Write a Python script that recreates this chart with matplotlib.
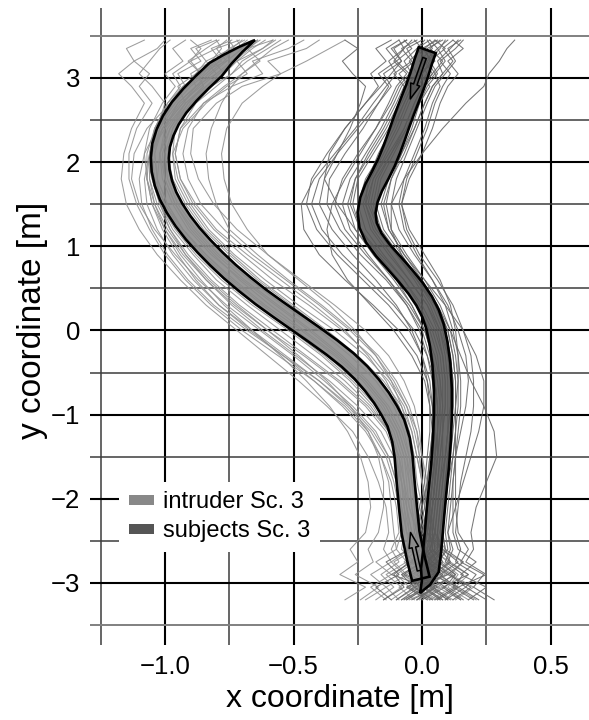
import numpy as np
import matplotlib
matplotlib.use("Agg")
import matplotlib.pyplot as plt
from matplotlib.patches import Polygon, Patch, FancyArrowPatch

plt.rcParams["font.family"] = ["Liberation Sans", "DejaVu Sans"]

# ---------------------------------------------------------------- data
X_TICKS = [-1.0, -0.5, 0.0, 0.5]
X_TICK_LABELS = ["\u22121.0", "\u22120.5", "0.0", "0.5"]
Y_TICKS = [-3, -2, -1, 0, 1, 2, 3]
Y_TICK_LABELS = ["\u22123", "\u22122", "\u22121", "0", "1", "2", "3"]
GRID_MAJOR_X = [-1.0, -0.5, 0.0, 0.5]
GRID_MINOR_X = [-1.25, -0.75, -0.25, 0.25]
GRID_MAJOR_Y = [-3, -2, -1, 0, 1, 2, 3]
GRID_MINOR_Y = [-2.5, -1.5, -0.5, 0.5, 1.5, 2.5]
GRID_OUTER_Y = [-3.5, 3.5]

# sampled y positions shared by all recorded walks
Y_SAMPLES = [-3.2, -3.05, -2.9, -2.75, -2.6, -2.4, -2.1, -1.8, -1.5, -1.2,
             -0.9, -0.6, -0.3, 0.0, 0.3, 0.6, 0.9, 1.2, 1.5, 1.8,
             2.1, 2.4, 2.7, 2.9, 3.05, 3.2, 3.35, 3.45]

# lateral position of each intruder walk at Y_SAMPLES
INTRUDER_RUNS = [
    [0.05, -0.03, 0.04, -0.05, 0.02, -0.06, -0.08, -0.10, -0.13, -0.18, -0.27, -0.38, -0.50, -0.63, -0.76, -0.87, -0.96, -1.04, -1.10, -1.13, -1.12, -1.07, -0.98, -0.92, -0.95, -0.86, -0.90, -0.82],
    [-0.08, 0.03, -0.04, 0.06, -0.02, 0.01, -0.02, -0.03, -0.04, -0.06, -0.09, -0.14, -0.21, -0.30, -0.42, -0.55, -0.68, -0.80, -0.88, -0.94, -0.96, -0.94, -0.88, -0.80, -0.74, -0.70, -0.62, -0.58],
    [0.10, 0.02, 0.08, 0.00, -0.03, -0.02, -0.05, -0.06, -0.07, -0.10, -0.16, -0.25, -0.36, -0.49, -0.62, -0.74, -0.84, -0.93, -0.99, -1.03, -1.04, -1.01, -0.93, -0.88, -0.80, -0.84, -0.74, -0.70],
    [-0.12, -0.05, -0.10, -0.03, -0.08, -0.07, -0.09, -0.11, -0.14, -0.20, -0.29, -0.40, -0.53, -0.66, -0.79, -0.89, -0.97, -1.03, -1.07, -1.08, -1.06, -1.00, -0.92, -0.85, -0.88, -0.78, -0.82, -0.74],
    [0.03, 0.12, 0.05, 0.10, 0.04, 0.03, 0.01, 0.00, -0.01, -0.02, -0.05, -0.10, -0.17, -0.27, -0.39, -0.52, -0.64, -0.75, -0.80, -0.83, -0.84, -0.82, -0.78, -0.74, -0.70, -0.64, -0.58, -0.52],
    [-0.05, 0.06, -0.02, 0.02, -0.05, -0.04, -0.06, -0.07, -0.08, -0.11, -0.17, -0.26, -0.37, -0.50, -0.64, -0.76, -0.86, -0.94, -1.00, -1.04, -1.05, -1.03, -0.96, -0.90, -0.84, -0.79, -0.72, -0.68],
    [-0.22, -0.14, -0.20, -0.12, -0.15, -0.13, -0.14, -0.17, -0.21, -0.27, -0.37, -0.48, -0.60, -0.72, -0.84, -0.94, -1.03, -1.10, -1.15, -1.17, -1.16, -1.13, -1.08, -1.13, -1.18, -1.12, -1.15, -1.08],
    [0.15, 0.06, 0.12, 0.04, 0.02, -0.01, -0.03, -0.04, -0.05, -0.07, -0.11, -0.18, -0.28, -0.40, -0.54, -0.67, -0.79, -0.88, -0.95, -0.99, -1.00, -0.97, -0.90, -0.83, -0.77, -0.72, -0.66, -0.61],
    [-0.15, -0.08, -0.14, -0.06, -0.10, -0.08, -0.08, -0.09, -0.10, -0.13, -0.19, -0.28, -0.39, -0.52, -0.66, -0.78, -0.88, -0.96, -1.02, -1.05, -1.05, -1.02, -0.95, -0.88, -0.90, -0.82, -0.78, -0.80],
    [0.08, 0.00, 0.06, 0.02, 0.05, 0.04, 0.02, 0.01, 0.00, -0.01, -0.03, -0.07, -0.13, -0.22, -0.34, -0.47, -0.60, -0.72, -0.81, -0.87, -0.90, -0.89, -0.80, -0.70, -0.55, -0.60, -0.45, -0.40],
    [-0.02, 0.08, 0.01, 0.07, 0.00, -0.03, -0.04, -0.05, -0.06, -0.09, -0.14, -0.22, -0.33, -0.46, -0.59, -0.71, -0.81, -0.90, -0.96, -1.00, -1.01, -0.98, -0.91, -0.85, -0.87, -0.76, -0.70, -0.72],
    [0.12, 0.04, 0.00, 0.06, 0.01, -0.02, -0.05, -0.07, -0.09, -0.13, -0.21, -0.32, -0.45, -0.58, -0.71, -0.82, -0.91, -0.98, -1.03, -1.06, -1.06, -1.03, -0.97, -0.92, -0.86, -0.90, -0.80, -0.76],
    [-0.06, 0.02, -0.08, 0.00, -0.04, -0.02, -0.03, -0.03, -0.04, -0.05, -0.08, -0.12, -0.18, -0.26, -0.36, -0.48, -0.60, -0.68, -0.74, -0.77, -0.78, -0.76, -0.70, -0.62, -0.55, -0.45, -0.36, -0.30],
    [0.02, -0.06, 0.03, -0.04, 0.00, -0.05, -0.07, -0.08, -0.10, -0.14, -0.22, -0.33, -0.46, -0.60, -0.73, -0.84, -0.93, -1.00, -1.05, -1.07, -1.06, -1.01, -0.93, -0.87, -0.82, -0.76, -0.80, -0.71],
    [0.18, 0.10, 0.14, 0.08, 0.06, 0.02, 0.00, -0.02, -0.03, -0.05, -0.09, -0.16, -0.26, -0.38, -0.51, -0.64, -0.75, -0.85, -0.92, -0.97, -0.99, -0.97, -0.91, -0.84, -0.79, -0.73, -0.67, -0.64],
    [-0.10, -0.02, -0.07, -0.12, -0.05, -0.06, -0.08, -0.10, -0.13, -0.19, -0.28, -0.40, -0.54, -0.68, -0.81, -0.91, -0.99, -1.05, -1.09, -1.10, -1.08, -1.03, -1.00, -1.05, -1.10, -1.06, -1.02, -0.98],
    [0.06, -0.02, 0.09, 0.03, 0.07, 0.02, -0.01, -0.03, -0.05, -0.08, -0.13, -0.21, -0.31, -0.43, -0.56, -0.69, -0.80, -0.89, -0.96, -1.00, -1.02, -1.00, -0.95, -0.88, -0.83, -0.77, -0.73, -0.66],
    [-0.30, -0.22, -0.32, -0.25, -0.28, -0.22, -0.20, -0.21, -0.24, -0.29, -0.36, -0.45, -0.55, -0.66, -0.77, -0.86, -0.94, -1.00, -1.04, -1.06, -1.05, -1.01, -0.94, -0.86, -0.80, -0.74, -0.68, -0.63],
    [0.09, 0.14, 0.06, 0.11, 0.03, 0.05, 0.03, 0.02, 0.00, -0.02, -0.06, -0.12, -0.20, -0.31, -0.44, -0.58, -0.70, -0.81, -0.89, -0.94, -0.96, -0.94, -0.85, -0.74, -0.62, -0.66, -0.52, -0.46],
    [-0.09, -0.14, -0.06, -0.11, -0.03, -0.06, -0.07, -0.08, -0.09, -0.12, -0.18, -0.27, -0.38, -0.51, -0.64, -0.75, -0.85, -0.93, -0.99, -1.03, -1.04, -1.02, -0.97, -0.91, -0.85, -0.81, -0.75, -0.69],
    [0.00, 0.07, -0.03, 0.04, -0.01, -0.02, -0.04, -0.05, -0.07, -0.10, -0.15, -0.23, -0.34, -0.47, -0.61, -0.73, -0.84, -0.93, -1.00, -1.04, -1.06, -1.04, -0.99, -0.94, -0.97, -0.90, -0.86, -0.90],
    [-0.18, -0.11, -0.16, -0.09, -0.12, -0.09, -0.10, -0.12, -0.16, -0.22, -0.31, -0.42, -0.54, -0.67, -0.79, -0.88, -0.95, -1.01, -1.05, -1.07, -1.07, -1.04, -0.98, -0.93, -0.86, -0.91, -0.84, -0.79],
    [0.21, 0.13, 0.18, 0.11, 0.09, 0.05, 0.02, 0.00, -0.02, -0.04, -0.07, -0.13, -0.22, -0.34, -0.48, -0.61, -0.73, -0.83, -0.90, -0.95, -0.97, -0.96, -0.90, -0.82, -0.74, -0.68, -0.60, -0.55],
    [-0.03, -0.09, 0.00, -0.07, -0.02, -0.04, -0.06, -0.08, -0.11, -0.16, -0.25, -0.36, -0.49, -0.62, -0.74, -0.84, -0.92, -0.98, -1.02, -1.03, -1.02, -0.98, -0.92, -0.95, -0.88, -0.84, -0.88, -0.80],
    [0.07, 0.01, 0.10, 0.05, 0.08, 0.03, 0.01, 0.00, -0.02, -0.04, -0.08, -0.15, -0.25, -0.37, -0.50, -0.63, -0.74, -0.84, -0.91, -0.96, -0.97, -0.93, -0.84, -0.76, -0.68, -0.72, -0.62, -0.57],
    [-0.14, -0.20, -0.12, -0.18, -0.10, -0.11, -0.12, -0.13, -0.16, -0.21, -0.30, -0.42, -0.56, -0.70, -0.82, -0.92, -1.00, -1.06, -1.11, -1.14, -1.14, -1.11, -1.05, -1.10, -1.06, -1.12, -1.03, -1.00],
    [0.13, 0.20, 0.11, 0.16, 0.07, 0.04, 0.02, 0.00, -0.01, -0.03, -0.06, -0.11, -0.18, -0.28, -0.40, -0.53, -0.66, -0.77, -0.86, -0.91, -0.93, -0.91, -0.85, -0.77, -0.70, -0.63, -0.68, -0.58],
    [-0.01, 0.05, -0.06, 0.02, -0.06, -0.05, -0.06, -0.07, -0.09, -0.13, -0.20, -0.30, -0.42, -0.55, -0.68, -0.80, -0.89, -0.97, -1.02, -1.05, -1.06, -1.04, -0.99, -0.93, -0.86, -0.80, -0.73, -0.75],
    [0.04, -0.04, 0.07, -0.01, 0.03, 0.00, -0.02, -0.04, -0.06, -0.09, -0.14, -0.22, -0.32, -0.44, -0.57, -0.70, -0.82, -0.91, -0.97, -1.01, -1.02, -0.99, -0.92, -0.84, -0.77, -0.81, -0.71, -0.64],
    [-0.24, -0.17, -0.26, -0.19, -0.21, -0.17, -0.15, -0.15, -0.17, -0.21, -0.28, -0.37, -0.48, -0.60, -0.72, -0.83, -0.92, -0.99, -1.04, -1.07, -1.08, -1.06, -1.01, -0.96, -1.00, -0.93, -0.97, -0.92],
]

# lateral position of each subject walk at Y_SAMPLES
SUBJECT_RUNS = [
    [-0.02, 0.05, -0.01, 0.06, 0.03, 0.05, 0.06, 0.07, 0.08, 0.08, 0.09, 0.09, 0.08, 0.06, 0.02, -0.05, -0.13, -0.20, -0.23, -0.20, -0.15, -0.10, -0.06, -0.03, 0.00, 0.03, 0.01, 0.05],
    [0.08, 0.01, 0.06, 0.00, 0.04, 0.03, 0.04, 0.05, 0.06, 0.06, 0.06, 0.05, 0.02, -0.03, -0.11, -0.21, -0.31, -0.39, -0.43, -0.40, -0.33, -0.25, -0.17, -0.12, -0.15, -0.08, -0.11, -0.06],
    [0.15, 0.08, 0.18, 0.10, 0.12, 0.10, 0.11, 0.12, 0.13, 0.14, 0.15, 0.15, 0.14, 0.12, 0.09, 0.04, -0.02, -0.07, -0.09, -0.07, -0.03, 0.01, 0.04, 0.07, 0.05, 0.09, 0.06, 0.10],
    [-0.10, -0.03, -0.08, 0.00, -0.02, 0.00, 0.02, 0.03, 0.04, 0.05, 0.05, 0.04, 0.02, -0.01, -0.06, -0.13, -0.21, -0.28, -0.31, -0.28, -0.22, -0.16, -0.11, -0.08, -0.04, -0.07, -0.02, 0.01],
    [0.20, 0.12, 0.16, 0.09, 0.11, 0.10, 0.13, 0.16, 0.19, 0.22, 0.24, 0.24, 0.21, 0.16, 0.09, 0.01, -0.07, -0.13, -0.15, -0.12, -0.07, -0.03, 0.01, 0.04, 0.08, 0.06, 0.11, 0.14],
    [0.02, -0.06, 0.03, -0.02, 0.01, 0.02, 0.03, 0.04, 0.05, 0.05, 0.04, 0.02, -0.02, -0.09, -0.19, -0.30, -0.40, -0.46, -0.47, -0.42, -0.34, -0.26, -0.19, -0.14, -0.10, -0.13, -0.07, -0.04],
    [0.05, 0.13, 0.07, 0.14, 0.08, 0.07, 0.08, 0.09, 0.10, 0.11, 0.12, 0.12, 0.11, 0.09, 0.05, -0.01, -0.08, -0.15, -0.18, -0.16, -0.11, -0.06, -0.02, 0.01, 0.05, 0.02, 0.07, 0.09],
    [0.22, 0.14, 0.25, 0.17, 0.20, 0.19, 0.21, 0.25, 0.29, 0.28, 0.24, 0.19, 0.15, 0.11, 0.06, -0.01, -0.09, -0.16, -0.19, -0.17, -0.12, -0.07, -0.03, 0.00, 0.04, 0.01, 0.06, 0.03],
    [-0.06, 0.02, -0.12, -0.04, -0.01, 0.01, 0.03, 0.04, 0.05, 0.06, 0.07, 0.07, 0.06, 0.03, -0.02, -0.09, -0.17, -0.24, -0.27, -0.25, -0.19, -0.13, -0.08, -0.05, -0.09, -0.03, -0.06, 0.00],
    [0.10, 0.03, 0.08, 0.02, 0.06, 0.06, 0.07, 0.08, 0.09, 0.10, 0.11, 0.11, 0.10, 0.08, 0.04, -0.02, -0.08, -0.12, -0.12, -0.07, 0.00, 0.08, 0.17, 0.24, 0.26, 0.30, 0.33, 0.36],
    [0.00, 0.09, 0.02, 0.08, 0.04, 0.04, 0.05, 0.06, 0.07, 0.08, 0.08, 0.07, 0.05, 0.01, -0.05, -0.13, -0.22, -0.30, -0.34, -0.31, -0.25, -0.18, -0.12, -0.09, -0.05, -0.10, -0.04, -0.07],
    [0.12, 0.19, 0.10, 0.16, 0.09, 0.08, 0.09, 0.10, 0.11, 0.12, 0.13, 0.13, 0.12, 0.10, 0.06, 0.00, -0.07, -0.13, -0.16, -0.13, -0.08, -0.03, 0.01, 0.04, 0.08, 0.12, 0.08, 0.12],
    [-0.15, -0.07, -0.11, -0.05, -0.06, -0.03, -0.01, 0.01, 0.02, 0.03, 0.03, 0.02, 0.00, -0.04, -0.10, -0.18, -0.27, -0.35, -0.40, -0.38, -0.33, -0.28, -0.24, -0.22, -0.27, -0.31, -0.25, -0.30],
    [0.04, -0.03, 0.10, 0.02, 0.07, 0.05, 0.06, 0.07, 0.09, 0.10, 0.10, 0.10, 0.09, 0.07, 0.03, -0.03, -0.10, -0.17, -0.21, -0.19, -0.14, -0.09, -0.05, -0.02, 0.02, -0.01, 0.04, 0.02],
    [0.07, 0.00, 0.05, -0.02, 0.03, 0.03, 0.04, 0.05, 0.06, 0.07, 0.07, 0.06, 0.04, 0.01, -0.04, -0.10, -0.18, -0.26, -0.33, -0.38, -0.36, -0.30, -0.22, -0.16, -0.12, -0.08, -0.12, -0.06],
    [0.28, 0.20, 0.24, 0.15, 0.18, 0.14, 0.13, 0.13, 0.13, 0.13, 0.13, 0.14, 0.14, 0.13, 0.11, 0.07, 0.01, -0.05, -0.08, -0.06, -0.02, 0.02, 0.05, 0.08, 0.11, 0.07, 0.13, 0.16],
    [-0.04, 0.06, -0.02, 0.04, 0.00, 0.02, 0.04, 0.05, 0.06, 0.07, 0.08, 0.08, 0.07, 0.04, -0.01, -0.07, -0.15, -0.22, -0.25, -0.22, -0.16, -0.11, -0.07, -0.04, -0.01, 0.02, -0.02, 0.03],
    [0.16, 0.09, 0.13, 0.06, 0.10, 0.09, 0.10, 0.11, 0.12, 0.13, 0.14, 0.14, 0.13, 0.11, 0.07, 0.01, -0.06, -0.12, -0.14, -0.12, -0.08, -0.04, -0.01, 0.02, 0.06, 0.03, 0.09, 0.05],
    [-0.08, -0.01, -0.05, 0.01, -0.03, -0.01, 0.01, 0.02, 0.03, 0.04, 0.03, 0.01, -0.04, -0.11, -0.20, -0.29, -0.35, -0.37, -0.35, -0.30, -0.24, -0.18, -0.13, -0.10, -0.06, -0.11, -0.07, -0.09],
    [0.09, 0.17, 0.11, 0.04, 0.08, 0.07, 0.08, 0.09, 0.10, 0.11, 0.12, 0.12, 0.11, 0.09, 0.05, -0.02, -0.10, -0.18, -0.22, -0.19, -0.13, -0.07, -0.03, 0.00, 0.04, 0.08, 0.03, 0.07],
    [0.03, -0.05, 0.06, -0.01, 0.05, 0.04, 0.05, 0.06, 0.07, 0.08, 0.09, 0.09, 0.08, 0.05, 0.00, -0.07, -0.16, -0.24, -0.28, -0.26, -0.20, -0.14, -0.09, -0.06, -0.02, -0.05, 0.00, -0.03],
    [0.18, 0.25, 0.15, 0.21, 0.14, 0.12, 0.12, 0.12, 0.13, 0.15, 0.17, 0.18, 0.17, 0.14, 0.10, 0.04, -0.03, -0.09, -0.12, -0.10, -0.06, -0.02, 0.02, 0.05, 0.09, 0.13, 0.10, 0.15],
    [-0.12, -0.18, -0.09, -0.14, -0.05, -0.02, 0.00, 0.02, 0.03, 0.04, 0.04, 0.03, 0.00, -0.05, -0.13, -0.23, -0.33, -0.41, -0.45, -0.43, -0.37, -0.30, -0.22, -0.17, -0.20, -0.14, -0.18, -0.12],
    [0.06, 0.14, 0.04, 0.11, 0.07, 0.06, 0.07, 0.08, 0.09, 0.10, 0.11, 0.11, 0.10, 0.07, 0.02, -0.05, -0.12, -0.19, -0.22, -0.21, -0.17, -0.12, -0.07, -0.04, 0.00, 0.04, 0.00, 0.06],
    [0.25, 0.17, 0.21, 0.13, 0.15, 0.13, 0.14, 0.15, 0.17, 0.19, 0.20, 0.20, 0.19, 0.16, 0.12, 0.06, -0.01, -0.06, -0.08, -0.05, 0.00, 0.04, 0.07, 0.10, 0.14, 0.10, 0.16, 0.12],
    [-0.02, 0.04, -0.07, 0.00, 0.02, 0.03, 0.04, 0.05, 0.05, 0.06, 0.06, 0.05, 0.03, 0.00, -0.06, -0.14, -0.24, -0.32, -0.37, -0.36, -0.30, -0.23, -0.17, -0.13, -0.17, -0.10, -0.14, -0.09],
    [0.11, 0.04, 0.13, 0.07, 0.09, 0.08, 0.09, 0.10, 0.12, 0.13, 0.13, 0.13, 0.12, 0.10, 0.05, -0.02, -0.10, -0.17, -0.20, -0.18, -0.12, -0.06, -0.01, 0.03, -0.01, 0.05, 0.02, 0.08],
    [-0.07, 0.01, -0.04, 0.03, 0.01, 0.02, 0.03, 0.04, 0.05, 0.06, 0.06, 0.05, 0.04, 0.01, -0.04, -0.11, -0.19, -0.26, -0.29, -0.26, -0.21, -0.15, -0.10, -0.07, -0.11, -0.04, -0.08, -0.02],
]

# mean paths, listed in walking direction
INTRUDER_MEAN_Y = [-2.95, -2.7, -2.4, -2.1, -1.8, -1.5, -1.3, -1.1, -0.95, -0.8, -0.65, -0.5, -0.35,
                   -0.2, -0.05, 0.1, 0.25, 0.4, 0.55, 0.7, 0.85, 1.0, 1.15, 1.3, 1.45, 1.6, 1.75,
                   1.9, 2.05, 2.2, 2.35, 2.5, 2.65, 2.8, 2.95, 3.1, 3.22, 3.34, 3.45]
INTRUDER_MEAN_X = [-0.005, -0.025, -0.045, -0.055, -0.064, -0.072, -0.082, -0.102, -0.128, -0.158, -0.195, -0.238, -0.29,
                   -0.352, -0.42, -0.49, -0.56, -0.628, -0.69, -0.748, -0.8, -0.848, -0.892, -0.93, -0.962, -0.988, -1.006,
                   -1.017, -1.02, -1.015, -1.0, -0.977, -0.945, -0.903, -0.855, -0.803, -0.757, -0.705, -0.65]
SUBJECT_MEAN_Y = [3.33, 3.2, 3.05, 2.9, 2.75, 2.6, 2.45, 2.3, 2.15, 2.0, 1.85, 1.7, 1.55, 1.4, 1.25, 1.1,
                  0.95, 0.8, 0.65, 0.5, 0.35, 0.2, 0.05, -0.15, -0.4, -0.7, -1.0, -1.3, -1.6, -1.9, -2.2,
                  -2.45, -2.65, -2.85, -3.0, -3.12]
SUBJECT_MEAN_X = [0.02, 0.005, -0.01, -0.027, -0.046, -0.065, -0.083, -0.1, -0.118, -0.138, -0.162, -0.188, -0.207, -0.216, -0.21, -0.188,
                  -0.152, -0.108, -0.065, -0.025, 0.008, 0.033, 0.05, 0.064, 0.075, 0.081, 0.081, 0.077, 0.07, 0.06, 0.051,
                  0.044, 0.038, 0.03, 0.015, -0.008]

LEGEND_LABELS = ["intruder Sc. 3", "subjects Sc. 3"]

# ---------------------------------------------------------------- figure
fig = plt.figure(figsize=(5.89, 7.2), dpi=100)
ax = fig.add_axes([90 / 589, 75 / 720, 499 / 589, 637 / 720])
ax.set_xlim(-1.2915, 0.649)
ax.set_ylim(-3.737, 3.831)
for sp in ax.spines.values():
    sp.set_visible(False)
ax.set_facecolor("white")

for x in GRID_MAJOR_X:
    ax.axvline(x, color="black", lw=1.5, zorder=0)
for x in GRID_MINOR_X:
    ax.axvline(x, color="#3c3c3c", lw=1.1, zorder=0)
for y in GRID_MAJOR_Y:
    ax.axhline(y, color="black", lw=1.5, zorder=0)
for y in GRID_MINOR_Y:
    ax.axhline(y, color="#3c3c3c", lw=1.1, zorder=0)
for y in GRID_OUTER_Y:
    ax.axhline(y, color="#808080", lw=1.4, zorder=0)

ax.set_xticks(X_TICKS)
ax.set_xticklabels(X_TICK_LABELS)
ax.set_yticks(Y_TICKS)
ax.set_yticklabels(Y_TICK_LABELS)
ax.tick_params(length=0, labelsize=18.5, pad=7)
ax.set_xlabel("x coordinate [m]", fontsize=23, labelpad=4)
ax.set_ylabel("y coordinate [m]", fontsize=24)
ax.yaxis.set_label_coords(-0.084, 0.51)

# individual walks
for run in INTRUDER_RUNS:
    ax.plot(run, Y_SAMPLES, color="#929292", lw=0.75, alpha=0.9, zorder=2)
for run in SUBJECT_RUNS:
    ax.plot(run, Y_SAMPLES, color="#686868", lw=0.75, alpha=0.9, zorder=2)


def band_outline(xs, ys, half_px, taper_pts):
    """Outline of a band of constant screen width that narrows to a point at its end."""
    pts = ax.transData.transform(np.column_stack([xs, ys]))
    d = np.gradient(pts, axis=0)
    d /= np.hypot(d[:, 0], d[:, 1])[:, None]
    nrm = np.column_stack([-d[:, 1], d[:, 0]])
    half = np.full(len(pts), float(half_px))
    half[-taper_pts:] = half_px * np.linspace(1.0, 0.0, taper_pts)
    left = pts + nrm * half[:, None]
    right = pts - nrm * half[:, None]
    outline = np.vstack([left, right[::-1]])
    return ax.transData.inverted().transform(outline)


for xs, ys, fc, taper, arrow_end in [(INTRUDER_MEAN_X, INTRUDER_MEAN_Y, "#8a8a8a", 4, 2),
                                     (SUBJECT_MEAN_X, SUBJECT_MEAN_Y, "#575757", 3, 4)]:
    outline = band_outline(xs, ys, 9.0, taper)
    ax.add_patch(Polygon(outline, closed=True, facecolor=fc, edgecolor="none",
                         alpha=0.88, zorder=4))
    ax.add_patch(Polygon(outline, closed=True, facecolor="none", edgecolor="black",
                         lw=1.9, joinstyle="miter", zorder=5))
    # walking direction marker at the start of the path
    ax.add_patch(FancyArrowPatch((xs[0], ys[0]), (xs[arrow_end], ys[arrow_end]),
                                 arrowstyle="simple,head_width=7,head_length=11,tail_width=2.6",
                                 facecolor=fc, edgecolor="black", lw=1.1,
                                 shrinkA=6, shrinkB=0, zorder=6))

handles = [Patch(facecolor="#888888", edgecolor="none", label=LEGEND_LABELS[0]),
           Patch(facecolor="#555555", edgecolor="none", label=LEGEND_LABELS[1])]
leg = ax.legend(handles=handles, loc="upper left", bbox_to_anchor=(0.059, 0.256),
                fontsize=17, frameon=True, fancybox=False, framealpha=1,
                facecolor="white", edgecolor="none", handlelength=1.06,
                handleheight=0.3, handletextpad=0.38, labelspacing=0.3,
                borderpad=0.4, borderaxespad=0)
leg.set_zorder(10)

fig.savefig("out.png", dpi=100)
